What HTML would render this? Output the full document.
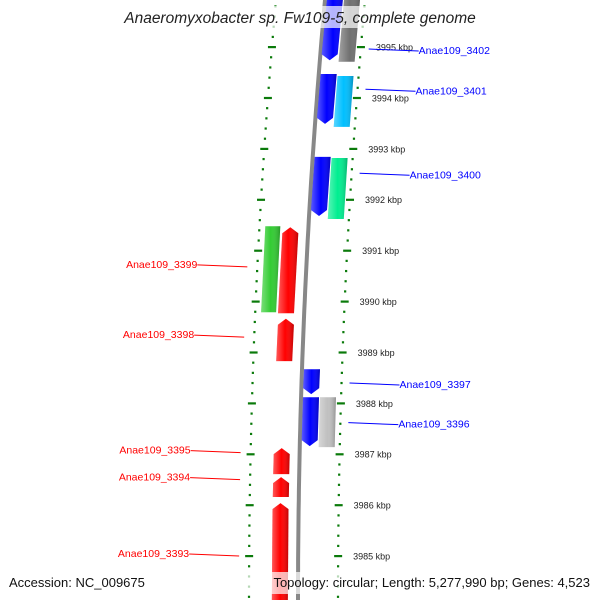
<!DOCTYPE html>
<html><head><meta charset="utf-8"><style>
body{margin:0;background:#fff}
svg{display:block;font-family:"Liberation Sans","DejaVu Sans",sans-serif}
</style></head><body>
<svg id="map" width="600" height="600" viewBox="0 0 600 600" xmlns="http://www.w3.org/2000/svg">
<defs>
<linearGradient id="sh" x1="0" x2="1" y1="0" y2="0">
<stop offset="0" stop-color="#fff" stop-opacity="0.35"/><stop offset="0.5" stop-color="#fff" stop-opacity="0"/><stop offset="1" stop-color="#000" stop-opacity="0.25"/>
</linearGradient>
</defs>
<g id="layer"></g>
</svg>
<script>
// data
const tickKbp=[3995,3994,3993,3992,3991,3990,3989,3988,3987,3986,3985];
const geneNames=["Anae109_3402","","","Anae109_3401","","Anae109_3400","","","Anae109_3399","Anae109_3398","Anae109_3397","Anae109_3396","","Anae109_3395","Anae109_3394","Anae109_3393"];
const geneStart=[3996.2,3996.2,3996.2,3994.47,3994.43,3992.84,3992.82,3991.48,3991.46,3989.66,3988.67,3988.12,3988.12,3987.12,3986.55,3986.04];
const geneEnd=[3994.74,3994.71,3996.05,3993.49,3993.43,3991.68,3991.62,3989.79,3989.77,3988.83,3988.18,3987.16,3987.14,3986.61,3986.16,3984.0];
const labelKbp=[3994.94,0,0,3994.15,0,3992.5,0,0,3990.68,3989.3,3988.38,3987.6,0,3987.03,3986.5,3985.0];
const geneStrand=[1,0,0,1,0,1,0,0,-1,-1,1,1,0,-1,-1,-1];
const geneColor=["#0000ff","#707070","#6b8e23","#0000ff","#00bfff","#0000ff","#00ee90","#33cc33","#ff0000","#ff0000","#0000ff","#0000ff","#c0c0c0","#ff0000","#ff0000","#ff0000"];
const geneSlot=[1,2,3,1,2,1,2,-2,-1,-1,1,1,2,-1,-1,-1];

const NS="http://www.w3.org/2000/svg";
const L=document.getElementById('layer');
function yOf(k){return 47+(3995-k)*50.9;}
function bx(y){return 298+7.5e-5*(600-y)*(600-y);}
function mk(t,a,p){const e=document.createElementNS(NS,t);for(const k in a)e.setAttribute(k,a[k]);(p||L).appendChild(e);return e;}

// backbone
let d="";for(let y=0;y<=600;y+=10){d+=(y?"L":"M")+bx(y).toFixed(1)+","+y;}
const bb=mk('path',{d:d,stroke:'#888',"stroke-width":4,fill:'none'});



// dotted scales
for(let i=0;i<=65;i++){
  const kk=Math.round((3996.6-i*0.2)*10)/10;const y=yOf(kk);if(y<-5||y>605)continue;
  const major=Math.abs(kk-Math.round(kk))<0.01;
  const xl=bx(y)-49, xr=bx(y)+40;
  const w=major?8:2.2;
  const t1=mk('rect',{x:xl-w/2,y:y-1,width:w,height:2.2,fill:'#0a7a0a'});
  
  
  const t2=mk('rect',{x:xr-w/2,y:y-1,width:w,height:2.2,fill:'#0a7a0a'});
  
  
}
tickKbp.forEach(k=>{const y=yOf(k);
  const t=mk('text',{x:bx(y)+55,y:y+3.5,"font-size":9,fill:'#222'});t.textContent=k+" kbp";
  
  
});

// genes
const slotOff={1:[2,18],2:[19,35],3:[28,40],"-1":[-26,-10],"-2":[-43,-28]};
geneStart.forEach((s,i)=>{
  const y1=yOf(s),y2=yOf(geneEnd[i]);const ym=(y1+y2)/2;const b=bx(ym);
  const o=slotOff[geneSlot[i]];const x1=b+o[0],x2=b+o[1];const sl=(bx(y2)-bx(y1))/2;
  let pts;
  if(geneStrand[i]===1){pts=[[x1-sl,y1],[x2-sl,y1],[x2+sl,y2-6],[(x1+x2)/2+sl,y2],[x1+sl,y2-6]];}
  else if(geneStrand[i]===-1){pts=[[(x1+x2)/2-sl,y1],[x2-sl,y1+6],[x2+sl,y2],[x1+sl,y2],[x1-sl,y1+6]];}
  else{pts=[[x1-sl,y1],[x2-sl,y1],[x2+sl,y2],[x1+sl,y2]];}
  const p=pts.map(q=>q[0].toFixed(1)+","+q[1].toFixed(1)).join(" ");
  const g=mk('g',{});
  
  
  mk('polygon',{points:p,fill:geneColor[i]},g);
  mk('polygon',{points:p,fill:'url(#sh)'},g);
});

// title & footer backdrops
const tb=mk('rect',{x:118,y:6,width:364,height:22,fill:'#fff',opacity:0.7});


const fb=mk('rect',{x:0,y:572,width:600,height:22,fill:'#fff',opacity:0.7});



// labels
geneNames.forEach((n,i)=>{
  if(!n)return;
  const yl=yOf(labelKbp[i]);
  if(geneStrand[i]===1){
    const lx=bx(yl)+48;
    const ln=mk('line',{x1:lx,y1:yl-1,x2:lx+50,y2:yl+1,stroke:'#0000ff'});
    
    
    const t=mk('text',{x:lx+50,y:yl+4,"font-size":10.5,fill:'#0000ff'});t.textContent=n;
    
    
  } else {
    const lx=bx(yl)-59;
    const ln=mk('line',{x1:lx-50,y1:yl-2,x2:lx,y2:yl,stroke:'#ff0000'});
    
    
    const t=mk('text',{x:lx-50,y:yl+1,"font-size":10.5,fill:'#ff0000',"text-anchor":"end"});t.textContent=n;
    
    
  }
});

const ti=mk('text',{x:300,y:23,"font-size":15.5,"font-style":"italic","text-anchor":"middle",fill:'#222'});
ti.textContent="Anaeromyxobacter sp. Fw109-5, complete genome";


const f1=mk('text',{x:9,y:587,"font-size":13,fill:'#111'});f1.textContent="Accession: NC_009675";


const f2=mk('text',{x:590,y:587,"font-size":13,fill:'#111',"text-anchor":"end"});f2.textContent="Topology: circular; Length: 5,277,990 bp; Genes: 4,523";


</script>
</body></html>
